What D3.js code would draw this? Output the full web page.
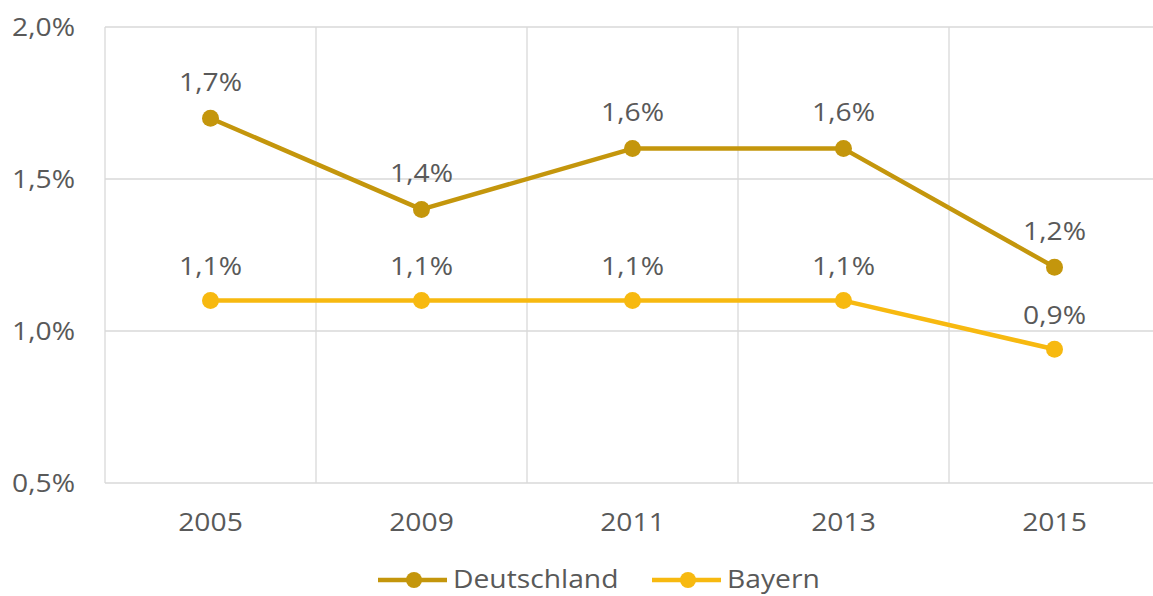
<!DOCTYPE html>
<html>
<head>
<meta charset="utf-8">
<script src="https://cdn.jsdelivr.net/npm/d3@7"></script>
<style>
  body { margin: 0; background: #fff; }
  svg text { font-family: "Open Sans", sans-serif; fill: #595959; font-size: 25px; }
</style>
</head>
<body>
<div id="chart"></div>
<script>
// data
const years = ['2005', '2009', '2011', '2013', '2015'];
const deutschland = [1.70, 1.40, 1.60, 1.60, 1.21];
const bayern = [1.10, 1.10, 1.10, 1.10, 0.94];
const deLabels = ['1,7%', '1,4%', '1,6%', '1,6%', '1,2%'];
const byLabels = ['1,1%', '1,1%', '1,1%', '1,1%', '0,9%'];
const yTicks = [0.5, 1.0, 1.5, 2.0];

const width = 1153, height = 596;
const plotLeft = 105, plotTop = 27, plotBottom = 483;
const stretch = 1.13; // the original picture is a bit wider than tall

const svg = d3.select('#chart').append('svg')
  .attr('width', width)
  .attr('height', height);

const x = d3.scaleBand()
  .domain(years)
  .range([plotLeft, plotLeft + 5 * 211]);

const y = d3.scaleLinear()
  .domain([0.5, 2.0])
  .range([plotBottom, plotTop]);

const place = (px, py) => 'translate(' + px + ',' + py + ') scale(' + stretch + ',1)';

// horizontal grid
svg.append('g')
  .selectAll('line')
  .data(yTicks)
  .enter().append('line')
  .attr('x1', plotLeft).attr('x2', width)
  .attr('y1', d => y(d)).attr('y2', d => y(d))
  .attr('stroke', '#d9d9d9').attr('stroke-width', 1.3);

// vertical grid at band edges
const edges = years.map(d => x(d)).concat([x(years[4]) + x.bandwidth()]);
svg.append('g')
  .selectAll('line')
  .data(edges)
  .enter().append('line')
  .attr('x1', d => d).attr('x2', d => d)
  .attr('y1', plotTop).attr('y2', plotBottom)
  .attr('stroke', '#d9d9d9').attr('stroke-width', 1.3);

// y axis labels
svg.append('g')
  .selectAll('text')
  .data(yTicks)
  .enter().append('text')
  .attr('transform', d => place(75, y(d)))
  .attr('dy', '0.35em')
  .attr('text-anchor', 'end')
  .text(d => d3.format('.1f')(d).replace('.', ',') + '%');

// x axis labels
svg.append('g')
  .selectAll('text')
  .data(years)
  .enter().append('text')
  .attr('transform', d => place(x(d) + x.bandwidth() / 2, 522))
  .attr('dy', '0.35em')
  .attr('text-anchor', 'middle')
  .text(d => d);

const cx = d => x(d) + x.bandwidth() / 2;

function drawSeries(values, labels, color, offset) {
  const line = d3.line()
    .x((d, i) => cx(years[i]))
    .y(d => y(d));

  svg.append('path')
    .datum(values)
    .attr('fill', 'none')
    .attr('stroke', color)
    .attr('stroke-width', 4.5)
    .attr('stroke-linejoin', 'round')
    .attr('d', line);

  svg.append('g')
    .selectAll('circle')
    .data(values)
    .enter().append('circle')
    .attr('cx', (d, i) => cx(years[i]))
    .attr('cy', d => y(d))
    .attr('r', 8.5)
    .attr('fill', color);

  svg.append('g')
    .selectAll('text')
    .data(values)
    .enter().append('text')
    .attr('transform', (d, i) => place(cx(years[i]), y(d) - offset))
    .attr('dy', '0.35em')
    .attr('text-anchor', 'middle')
    .text((d, i) => labels[i]);
}

drawSeries(deutschland, deLabels, '#c4960c', 36);
drawSeries(bayern, byLabels, '#f7b910', 34);

// legend
const legend = [
  { name: 'Deutschland', color: '#c4960c', x: 378 },
  { name: 'Bayern', color: '#f7b910', x: 652 }
];
const lg = svg.append('g')
  .selectAll('g')
  .data(legend)
  .enter().append('g')
  .attr('transform', d => 'translate(' + d.x + ',580)');
lg.append('line')
  .attr('x1', 0).attr('x2', 69)
  .attr('stroke', d => d.color).attr('stroke-width', 4.5);
lg.append('circle')
  .attr('cx', 36).attr('r', 8)
  .attr('fill', d => d.color);
lg.append('text')
  .attr('transform', place(75, 0))
  .attr('dy', '0.3em')
  .text(d => d.name);
</script>
</body>
</html>
